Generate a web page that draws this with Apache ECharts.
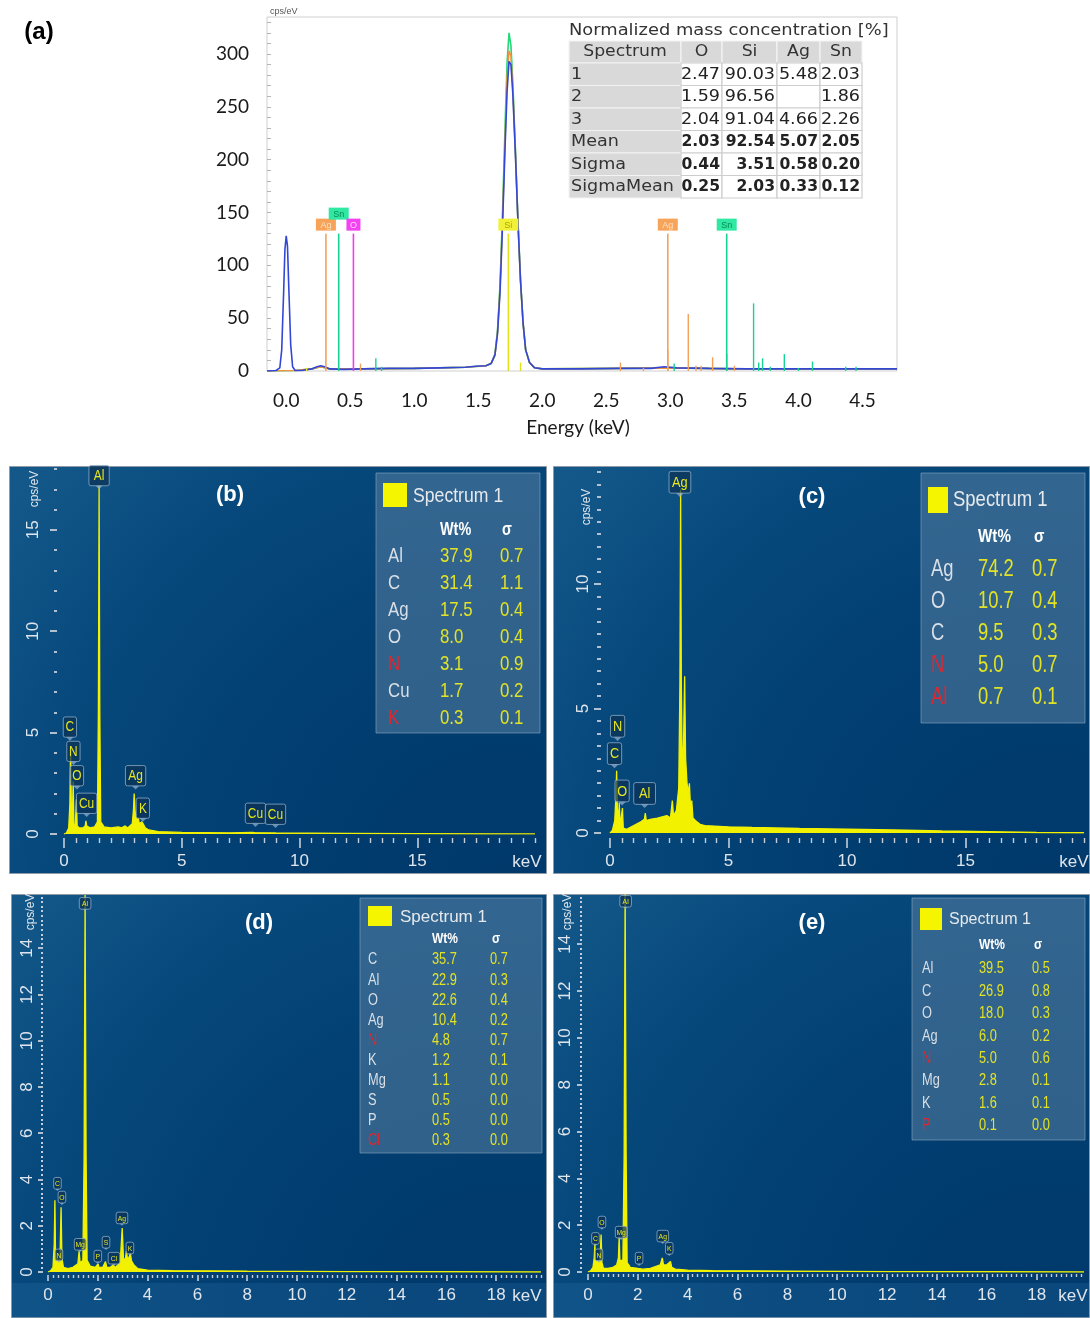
<!DOCTYPE html>
<html><head><meta charset="utf-8">
<script src="https://cdn.jsdelivr.net/npm/echarts@6/dist/echarts.min.js"></script>
<style>html,body{margin:0;padding:0;background:#fff}#c{width:1090px;height:1318px}</style>
</head><body><div id="c"></div><script>
// ================= DATA =================
// ---- Panel (a) ----
const aXTicks = [0, 0.5, 1, 1.5, 2, 2.5, 3, 3.5, 4, 4.5];
const aYTicks = [0, 50, 100, 150, 200, 250, 300];
const aBlue = [[-0.15,0],[-0.08,0.5],[-0.05,3],[-0.035,20],[-0.02,75],[-0.01,115],[0,128],[0.01,118],[0.02,80],[0.035,25],[0.05,4],[0.07,0.5],[0.12,0.5],[0.2,2],[0.24,4],[0.27,5],[0.3,4],[0.34,2],[0.45,1.5],[0.6,2],[0.8,2.5],[1.0,2.5],[1.2,3],[1.4,3.5],[1.48,4.5],[1.56,5],[1.6,7],[1.63,15],[1.65,35],[1.67,75],[1.69,140],[1.71,215],[1.725,265],[1.74,293],[1.755,290],[1.77,262],[1.79,205],[1.81,140],[1.83,85],[1.85,45],[1.87,20],[1.9,8],[1.94,3],[2.0,2],[2.3,2],[2.6,2.5],[2.85,2.5],[2.95,4],[3.05,3],[3.3,2.5],[3.6,2],[4.0,2],[4.4,2],[4.77,2]];
const aGreen = [[-0.15,0],[0.07,0.5],[0.2,2],[0.27,4],[0.34,2],[0.6,2],[1.0,2.5],[1.4,3.5],[1.56,5],[1.6,7],[1.63,16],[1.65,38],[1.67,82],[1.69,152],[1.71,235],[1.725,292],[1.74,320],[1.755,308],[1.77,272],[1.79,210],[1.81,142],[1.83,86],[1.85,45],[1.87,20],[1.9,8],[1.94,3],[2.0,2],[2.6,2.5],[3.0,3],[3.5,2],[4.77,2]];
const aOrange = [[-0.15,0],[0.07,0.5],[0.2,2],[0.27,4],[0.34,2],[0.6,2],[1.0,2.5],[1.4,3.5],[1.56,5],[1.6,7],[1.63,15],[1.65,36],[1.67,78],[1.69,145],[1.71,222],[1.725,278],[1.74,303],[1.755,298],[1.77,266],[1.79,206],[1.81,140],[1.83,85],[1.85,45],[1.87,20],[1.9,8],[1.94,3],[2.0,2],[2.6,2.5],[3.0,3],[3.5,2],[4.77,2]];
// element marker lines: [element, energy keV, height, label row]
const aMarkers = [['Ag',0.31,130,0],['Sn',0.41,130,1],['O',0.525,130,0],['Si',1.735,130,0],['Ag',2.98,130,0],['Sn',3.44,130,0]];
// small element spikes: [element, energy keV, height]
const aSpikes = [['Si',0.16,3],['Ag',0.58,7],['Sn',0.70,12],['Sn',0.745,4],['Si',1.83,8],['Ag',2.61,8],['Ag',2.79,3],['Ag',2.98,20],['Sn',3.03,7],['Ag',3.14,54],['Ag',3.20,5],['Ag',3.24,5],['Ag',3.33,13],['Sn',3.44,16],['Ag',3.50,5],['Sn',3.65,64],['Sn',3.69,8],['Sn',3.72,12],['Sn',3.78,4],['Sn',3.89,16],['Sn',4.00,3],['Sn',4.11,9],['Sn',4.37,4],['Sn',4.45,4]];
const tableTitle = 'Normalized mass concentration [%]';
const tableHeader = ['Spectrum','O','Si','Ag','Sn'];
const tableRows = [['1','2.47','90.03','5.48','2.03'],['2','1.59','96.56','','1.86'],['3','2.04','91.04','4.66','2.26'],['Mean','2.03','92.54','5.07','2.05'],['Sigma','0.44','3.51','0.58','0.20'],['SigmaMean','0.25','2.03','0.33','0.12']];
const tableBoldRows = ['Mean','Sigma','SigmaMean'];

// ---- Panel (b) ----
const bSpec = [[0,0],[0.1,0.05],[0.2,0.3],[0.25,1.5],[0.28,4.3],[0.31,1.5],[0.35,0.6],[0.39,2.6],[0.42,0.5],[0.48,0.4],[0.525,1.7],[0.56,0.4],[0.65,0.3],[0.8,0.3],[0.9,0.4],[0.93,0.65],[0.96,0.4],[1.1,0.3],[1.3,0.35],[1.42,0.6],[1.46,6],[1.49,17.2],[1.52,6],[1.56,0.6],[1.7,0.35],[2.0,0.3],[2.3,0.35],[2.45,0.3],[2.6,0.4],[2.7,0.3],[2.9,0.5],[2.95,1.2],[2.98,2.0],[3.02,1.1],[3.1,0.6],[3.15,0.8],[3.2,0.5],[3.31,0.6],[3.36,0.5],[3.45,0.3],[3.6,0.2],[4,0.12],[5,0.08],[7,0.06],[8.0,0.08],[8.04,0.15],[8.1,0.07],[9,0.05],[12,0.03],[15,0.02],[18,0.01],[20,0.01]];
const bPeakLabels = [['Al',1.49,17.0],['C',0.25,4.6],['N',0.40,3.4],['O',0.55,2.2],['Cu',0.96,0.84],['Ag',3.04,2.2],['K',3.35,0.6],['Cu',8.13,0.35],['Cu',8.98,0.3]];
const bTable = [['Al','37.9','0.7'],['C','31.4','1.1'],['Ag','17.5','0.4'],['O','8.0','0.4'],['N','3.1','0.9'],['Cu','1.7','0.2'],['K','0.3','0.1']];
const bXTicks = [0,5,10,15], bYTicks = [0,5,10,15];

// ---- Panel (c) ----
const cSpec = [[0,0],[0.1,0.1],[0.2,0.5],[0.25,1.5],[0.28,2.5],[0.31,1.0],[0.36,0.5],[0.39,1.2],[0.43,0.3],[0.5,0.3],[0.525,1.0],[0.56,0.2],[0.7,0.15],[0.9,0.25],[1.1,0.35],[1.3,0.45],[1.45,0.55],[1.49,0.8],[1.53,0.5],[1.7,0.55],[2.0,0.6],[2.2,0.65],[2.4,0.7],[2.55,0.6],[2.63,1.3],[2.68,0.7],[2.8,0.9],[2.9,1.8],[2.95,6],[2.98,13.8],[3.01,6],[3.05,2.5],[3.1,3.5],[3.15,6.3],[3.19,3],[3.25,2.0],[3.3,1.6],[3.35,2.0],[3.4,1.0],[3.45,1.3],[3.5,0.6],[3.6,0.5],[3.8,0.35],[4,0.3],[5,0.25],[6,0.22],[8,0.18],[10,0.15],[12,0.12],[14,0.08],[16,0.05],[18,0.02],[20,0.01]];
const cPeakLabels = [['Ag',2.95,13.5],['N',0.32,3.7],['C',0.19,2.6],['O',0.51,1.1],['Al',1.46,1.0]];
const cTable = [['Ag','74.2','0.7'],['O','10.7','0.4'],['C','9.5','0.3'],['N','5.0','0.7'],['Al','0.7','0.1']];
const cXTicks = [0,5,10,15], cYTicks = [0,5,10];

// ---- Panel (d) ----
const dSpec = [[0,0],[0.1,0.05],[0.2,0.2],[0.25,1.2],[0.277,3.1],[0.3,1.0],[0.35,0.3],[0.39,0.6],[0.43,0.3],[0.48,0.5],[0.525,2.8],[0.56,0.6],[0.62,0.2],[0.8,0.15],[1.0,0.2],[1.2,0.35],[1.25,0.9],[1.29,0.4],[1.4,0.5],[1.45,5],[1.49,16.3],[1.53,5],[1.57,0.5],[1.7,0.25],[1.9,0.2],[2.01,0.35],[2.05,0.2],[2.2,0.2],[2.31,0.45],[2.36,0.2],[2.5,0.2],[2.62,0.3],[2.7,0.2],[2.9,0.4],[2.98,1.9],[3.03,0.6],[3.1,0.5],[3.15,0.9],[3.2,0.5],[3.31,0.8],[3.35,0.5],[3.45,0.3],[3.6,0.15],[4,0.08],[5,0.06],[8,0.04],[12,0.02],[16,0.01],[19.8,0]];
const dPeakLabels = [['Al',1.49,15.6],['C',0.38,3.5],['O',0.56,2.9],['N',0.44,0.4],['Mg',1.29,0.86],['P',2.0,0.35],['S',2.33,0.95],['Cl',2.65,0.26],['Ag',2.97,2.0],['K',3.29,0.7]];
const dTable = [['C','35.7','0.7'],['Al','22.9','0.3'],['O','22.6','0.4'],['Ag','10.4','0.2'],['N','4.8','0.7'],['K','1.2','0.1'],['Mg','1.1','0.0'],['S','0.5','0.0'],['P','0.5','0.0'],['Cl','0.3','0.0']];
const dXTicks = [0,2,4,6,8,10,12,14,16,18], dYTicks = [0,2,4,6,8,10,12,14];

// ---- Panel (e) ----
const eSpec = [[0,0],[0.1,0.05],[0.2,0.2],[0.25,0.6],[0.277,1.2],[0.3,0.4],[0.39,0.5],[0.43,0.3],[0.48,0.5],[0.525,1.6],[0.56,0.4],[0.62,0.15],[0.8,0.15],[1.0,0.2],[1.15,0.3],[1.22,0.6],[1.25,1.5],[1.28,0.5],[1.4,0.5],[1.45,5],[1.49,16.5],[1.53,5],[1.57,0.4],[1.7,0.2],[2.01,0.15],[2.2,0.12],[2.5,0.15],[2.9,0.3],[2.98,0.6],[3.03,0.3],[3.15,0.3],[3.31,0.45],[3.36,0.2],[3.5,0.12],[4,0.08],[5,0.06],[8,0.04],[12,0.02],[16,0.01],[19.9,0]];
const ePeakLabels = [['Al',1.51,15.5],['C',0.30,1.1],['O',0.56,1.8],['N',0.44,0.4],['Mg',1.33,1.37],['P',2.05,0.26],['Ag',3.0,1.2],['K',3.26,0.68]];
const eTable = [['Al','39.5','0.5'],['C','26.9','0.8'],['O','18.0','0.3'],['Ag','6.0','0.2'],['N','5.0','0.6'],['Mg','2.8','0.1'],['K','1.6','0.1'],['P','0.1','0.0']];
const eXTicks = dXTicks, eYTicks = dYTicks;

// ================= STYLE / BUILD =================
const elemColor = {
  Ag:{line:'#f4a259', box:'#f8a35a', text:'#fde3c4'},
  Sn:{line:'#17d391', box:'#2fe8a2', text:'#0c8a57'},
  O:{line:'#f03cf0', box:'#f242f2', text:'#ffd6ff'},
  Si:{line:'#e3e31a', box:'#f1f13a', text:'#b0a400'}
};
const redEls = {b:['N','K'], c:['N','Al'], d:['N','Cl'], e:['N','P']};
const TICK = '#c4ceda', LBL = '#dfe5ec', YEL = '#f2f200';
const FNUM = '"Liberation Sans", Arial, sans-serif';
const FLAT = 'Lato, "Open Sans", sans-serif';
const FTAB = '"DejaVu Sans", Verdana, sans-serif';

function range(a,b,s){const r=[];for(let k=0;;k++){const v=Math.round((a+k*s)*1000)/1000;if(v>b+1e-9)break;r.push(v);}return r;}
function minus(arr,maj){return arr.filter(v=>!maj.some(m=>Math.abs(m-v)<1e-6));}

const grids=[], xAxes=[], yAxes=[], series=[];
function addGrid(g){grids.push(g);return grids.length-1;}

function darkPanel(rect, o){
  const gM = addGrid(Object.assign({}, rect));
  const gm = addGrid(Object.assign({}, rect));
  const base = {type:'value', splitLine:{show:false}, axisLine:{show:false, onZero:false}};
  const xi = xAxes.length;
  xAxes.push(Object.assign({}, base, {gridIndex:gM, min:o.x[0], max:o.x[1], offset:o.xOff,
    axisTick:{show:true, customValues:o.xMaj, length:o.xLen[0], lineStyle:{color:TICK, width:1.6}},
    axisLabel:{show:true, customValues:o.xMaj, color:LBL, fontSize:o.fs, fontFamily:FNUM, margin:o.xMargin}}));
  xAxes.push(Object.assign({}, base, {gridIndex:gm, min:o.x[0], max:o.x[1], offset:o.xOff,
    axisTick:{show:true, customValues:minus(o.xMin,o.xMaj), length:o.xLen[1], lineStyle:{color:TICK, width:1.4}},
    axisLabel:{show:false}}));
  const yi = yAxes.length;
  yAxes.push(Object.assign({}, base, {gridIndex:gM, min:o.y[0], max:o.y[1], offset:o.yOff,
    axisTick:{show:true, customValues:o.yMaj, length:o.yLen[0], lineStyle:{color:TICK, width:1.8}},
    axisLabel:{show:true, customValues:o.yMaj, rotate:90, color:LBL, fontSize:o.fs, fontFamily:FNUM, margin:o.yMargin}}));
  yAxes.push(Object.assign({}, base, {gridIndex:gm, min:o.y[0], max:o.y[1], offset:o.yOff,
    axisTick:{show:true, customValues:minus(o.yMin,o.yMaj), length:o.yLen[1], lineStyle:{color:TICK, width:o.minW||1.8}},
    axisLabel:{show:false}}));
  series.push({type:'line', xAxisIndex:xi, yAxisIndex:yi, data:o.spec, showSymbol:false, z:3,
    lineStyle:{color:YEL, width:1.3}, areaStyle:{color:YEL, opacity:1}, silent:true});
  series.push(labelSeries(xi, yi, o.labels, o.lfs));
}

function labelSeries(xi, yi, labels, fs){
  return {type:'custom', xAxisIndex:xi, yAxisIndex:yi, z:6, silent:true,
    data: labels.map(l=>[l[1], l[2]]),
    renderItem:function(params, api){
      const l = labels[params.dataIndex];
      const p = api.coord([l[1], l[2]]);
      const tail = Math.max(2, fs*0.25);
      const w = l[0].length*fs*0.5 + fs*0.45, h = fs*1.45;
      const x = p[0]-w/2, y = p[1]-tail-h;
      return {type:'group', children:[
        {type:'rect', shape:{x:x, y:y, width:w, height:h, r:2}, style:{fill:'rgba(12,50,85,0.72)', stroke:'rgba(150,178,205,0.75)', lineWidth:1}},
        {type:'polygon', shape:{points:[[p[0]-tail,y+h],[p[0]+tail,y+h],[p[0],p[1]]]}, style:{fill:'rgba(150,178,205,0.7)'}},
        {type:'text', x:p[0], y:y+h/2+0.5, scaleX:0.85, style:{text:l[0], x:0, y:0, textAlign:'center', textVerticalAlign:'middle', fill:'#e8e81e', font:fs+'px '+FNUM}}
      ]};
    }};
}

// ---- Panel (a) grid ----
const gA = addGrid({left:267, top:17, width:630, height:354, show:true, borderColor:'#cfcfcf', borderWidth:1, backgroundColor:'#fff'});
const xA = xAxes.length;
xAxes.push({gridIndex:gA, type:'value', min:-0.15, max:4.77, splitLine:{show:false}, axisLine:{show:false, onZero:false}, axisTick:{show:false},
  axisLabel:{customValues:aXTicks, formatter:v=>v.toFixed(1), color:'#1a1a1a', fontSize:19, fontFamily:FLAT, margin:20}});
const yA = yAxes.length;
yAxes.push({gridIndex:gA, type:'value', min:0, max:335, splitLine:{show:false}, axisLine:{show:false, onZero:false},
  axisTick:{show:true, inside:true, customValues:range(0,330,10), length:4, lineStyle:{color:'#b5b5b5'}},
  axisLabel:{customValues:aYTicks, color:'#1a1a1a', fontSize:19, fontFamily:FLAT, margin:18}});
[[aGreen,'#22d877'],[aOrange,'#f0953f'],[aBlue,'#3347d6']].forEach(([d,c])=>{
  series.push({type:'line', xAxisIndex:xA, yAxisIndex:yA, data:d, showSymbol:false, z:3, silent:true, lineStyle:{color:c, width:1.6}});
});
series.push({type:'custom', xAxisIndex:xA, yAxisIndex:yA, z:4, silent:true, data:aSpikes.map(s=>[s[1],s[2]]),
  renderItem:function(params, api){
    const s = aSpikes[params.dataIndex];
    const p0 = api.coord([s[1],0]), p1 = api.coord([s[1],s[2]]);
    return {type:'line', shape:{x1:p0[0],y1:p0[1],x2:p1[0],y2:p1[1]}, style:{stroke:elemColor[s[0]].line, lineWidth:1.4}};
  }});
series.push({type:'custom', xAxisIndex:xA, yAxisIndex:yA, z:5, silent:true, data:aMarkers.map(m=>[m[1],m[2]]),
  renderItem:function(params, api){
    const m = aMarkers[params.dataIndex]; const c = elemColor[m[0]];
    const p0 = api.coord([m[1],0]), p1 = api.coord([m[1],m[2]]);
    const by = p1[1]-3-m[3]*11, w = m[0].length*6+8, h = 12;
    return {type:'group', children:[
      {type:'line', shape:{x1:p0[0],y1:p0[1],x2:p1[0],y2:p1[1]}, style:{stroke:c.line, lineWidth:1.6}},
      {type:'rect', shape:{x:p1[0]-w/2, y:by-h, width:w, height:h}, style:{fill:c.box}},
      {type:'text', style:{text:m[0], x:p1[0], y:by-h/2+0.5, textAlign:'center', textVerticalAlign:'middle', fill:c.text, font:'9px '+FNUM}}
    ]};
  }});

// ---- Dark panels ----
darkPanel({left:64, top:469, width:471, height:365}, {x:[0,20], y:[0,18], xMaj:bXTicks, xMin:range(0,20,0.5), yMaj:bYTicks, yMin:range(0,18,1),
  xOff:4, yOff:7, xLen:[10,5], yLen:[7,3], xMargin:15, yMargin:15, fs:17, spec:bSpec, labels:bPeakLabels, lfs:14});
darkPanel({left:610, top:467, width:474, height:366}, {x:[0,20], y:[0,14.7], xMaj:cXTicks, xMin:range(0,20,0.5), yMaj:cYTicks, yMin:range(0,14.5,0.5),
  xOff:5, yOff:9, xLen:[10,5], yLen:[7,4], xMargin:15, yMargin:9, fs:17, spec:cSpec, labels:cPeakLabels, lfs:15});
darkPanel({left:48, top:895, width:493, height:377}, {x:[0,19.8], y:[0,16.3], xMaj:dXTicks, xMin:range(0,19.8,0.2), yMaj:dYTicks, yMin:range(0,16.2,0.2),
  xOff:3, yOff:5, xLen:[6,3], yLen:[5,2], xMargin:12, yMargin:7, fs:17, minW:2, spec:dSpec, labels:dPeakLabels, lfs:8});
darkPanel({left:588, top:895, width:496, height:377}, {x:[0,19.9], y:[0,16.1], xMaj:eXTicks, xMin:range(0,19.8,0.2), yMaj:eYTicks, yMin:range(0,16.0,0.2),
  xOff:2, yOff:6, xLen:[6,3], yLen:[5,2], xMargin:13, yMargin:8, fs:17, minW:2, spec:eSpec, labels:ePeakLabels, lfs:8});

// ================= GRAPHIC =================
const G = [];
function T(x, y, text, font, fill, align, extra){
  return Object.assign({type:'text', x:x, y:y, z:50, silent:true,
    style:{text:text, font:font, fill:fill, textAlign:align||'left', textVerticalAlign:'middle'}}, extra||{});
}
function panelBg(x,y,w,h){
  G.push({type:'rect', z:-20, silent:true, shape:{x:x,y:y,width:w,height:h},
    style:{fill:new echarts.graphic.RadialGradient(0.92,1.05,1.55,[{offset:0,color:'#00386a'},{offset:0.45,color:'#023f72'},{offset:0.75,color:'#07497c'},{offset:1,color:'#14588a'}]), stroke:'#8e9aa6', lineWidth:1}});
}
panelBg(9.5,466.5,537,407);
panelBg(553.5,466.5,536,407);
panelBg(11.5,894.5,535,423);
panelBg(553.5,894.5,536,423);
G.push({type:'rect', z:-19, silent:true, shape:{x:12,y:1283,width:534,height:35}, style:{fill:'rgba(40,110,170,0.28)'}});
G.push({type:'rect', z:-19, silent:true, shape:{x:554,y:1283,width:535,height:35}, style:{fill:'rgba(40,110,170,0.28)'}});

// panel letters
G.push(T(39,32,'(a)','bold 24px '+FNUM,'#000','center'));
G.push(T(230,495,'(b)','bold 22px '+FNUM,'#fff','center'));
G.push(T(812,497,'(c)','bold 22px '+FNUM,'#fff','center'));
G.push(T(259,923,'(d)','bold 22px '+FNUM,'#fff','center'));
G.push(T(812,923,'(e)','bold 22px '+FNUM,'#fff','center'));

// panel (a) texts
G.push(T(270,12,'cps/eV','9px '+FNUM,'#555','left'));
G.push(T(578,428,'Energy (keV)','19px '+FLAT,'#1a1a1a','center'));

// cps/eV rotated and keV
[[35,489],[587,507],[31,912],[568,912]].forEach(p=>G.push(T(p[0],p[1],'cps/eV','12px '+FNUM,LBL,'center',{rotation:Math.PI/2})));
[[527,862],[1074,862],[527,1296],[1073,1296]].forEach(p=>G.push(T(p[0],p[1],'keV','17px '+FNUM,LBL,'center')));

// table (a)
(function(){
  const colX=[569,681,722,777,820,862];
  const rowY=[41,63,85.5,108,130.5,153,175.5,198];
  G.push({type:'rect', z:30, silent:true, shape:{x:566,y:19,width:326,height:182}, style:{fill:'#fff'}});
  G.push(T(569,31,tableTitle,'15px '+FTAB,'#333','left',{scaleX:1.19}));
  for(let r=0;r<7;r++){
    for(let c=0;c<5;c++){
      const gray = (r===0||c===0);
      G.push({type:'rect', z:31, silent:true, shape:{x:colX[c],y:rowY[r],width:colX[c+1]-colX[c],height:rowY[r+1]-rowY[r]},
        style:{fill:gray?'#d9d9d9':'#fff', stroke:gray?'#f4f4f4':'#cdcdcd', lineWidth:1.2}});
    }
  }
  const cy = r => (rowY[r]+rowY[r+1])/2+0.5;
  tableHeader.forEach((h,c)=>G.push(T((colX[c]+colX[c+1])/2, cy(0), h, '15px '+FTAB, '#333', 'center', {scaleX:1.15})));
  tableRows.forEach((row,i)=>{
    const bold = tableBoldRows.indexOf(row[0])>=0;
    G.push(T(colX[0]+2, cy(i+1), row[0], '15px '+FTAB, '#333', 'left', {scaleX:1.17}));
    for(let c=1;c<5;c++){
      if(row[c]==='') continue;
      G.push(T(colX[c+1]-2, cy(i+1), row[c], (bold?'bold ':'')+'15px '+FTAB, '#222', 'right', {scaleX:bold?1.04:1.17}));
    }
  });
})();

// legends (b)-(e)
function legendBox(o, rows, redList){
  const sx = {scaleX:o.sx};
  G.push({type:'rect', z:40, silent:true, shape:{x:o.box[0],y:o.box[1],width:o.box[2],height:o.box[3]}, style:{fill:'rgba(88,128,162,0.55)', stroke:'rgba(140,168,195,0.6)', lineWidth:1}});
  G.push({type:'rect', z:41, silent:true, shape:{x:o.sq[0],y:o.sq[1],width:o.sq[2],height:o.sq[3]}, style:{fill:'#f5f500'}});
  G.push(T(o.title[0], o.title[1], 'Spectrum 1', o.tFont, '#e6eaee', 'left', {scaleX:o.tsx}));
  G.push(T(o.cols[1], o.hy, 'Wt%', 'bold '+o.hFont, '#ffffff', 'left', sx));
  G.push(T(o.cols[2]+2, o.hy, 'σ', 'bold '+o.hFont, '#ffffff', 'left', sx));
  rows.forEach((r,i)=>{
    const y = o.y0 + i*o.dy;
    G.push(T(o.cols[0], y, r[0], o.font, redList.indexOf(r[0])>=0?'#e3262b':'#d9dfe6', 'left', sx));
    G.push(T(o.cols[1], y, r[1], o.font, '#e2e226', 'left', sx));
    G.push(T(o.cols[2], y, r[2], o.font, '#e2e226', 'left', sx));
  });
}
legendBox({box:[376,473,164,260], sq:[383,483,24,24], title:[413,496], tFont:'21px '+FNUM, tsx:0.84, hy:530, hFont:'18px '+FNUM, y0:556, dy:27, cols:[388,440,500], font:'21px '+FNUM, sx:0.8}, bTable, redEls.b);
legendBox({box:[921,473,164,250], sq:[928,487,20,26], title:[953,500], tFont:'22px '+FNUM, tsx:0.84, hy:537, hFont:'19px '+FNUM, y0:570, dy:31.8, cols:[931,978,1032], font:'23px '+FNUM, sx:0.8}, cTable, redEls.c);
legendBox({box:[360,898,182,255], sq:[368,906,24,20], title:[400,917], tFont:'17px '+FNUM, tsx:1.0, hy:939, hFont:'15px '+FNUM, y0:960, dy:20.1, cols:[368,432,490], font:'16px '+FNUM, sx:0.8}, dTable, redEls.d);
legendBox({box:[912,898,173,242], sq:[920,908,22,22], title:[949,920], tFont:'16px '+FNUM, tsx:1.0, hy:945, hFont:'15px '+FNUM, y0:969, dy:22.4, cols:[922,979,1032], font:'16px '+FNUM, sx:0.8}, eTable, redEls.e);

// ================= CHART =================
const chart = echarts.init(document.getElementById('c'), null, {renderer:'canvas', width:1090, height:1318});
chart.setOption({
  animation:false,
  backgroundColor:'#ffffff',
  grid:grids, xAxis:xAxes, yAxis:yAxes, series:series,
  graphic:{elements:G}
});
</script></body></html>
